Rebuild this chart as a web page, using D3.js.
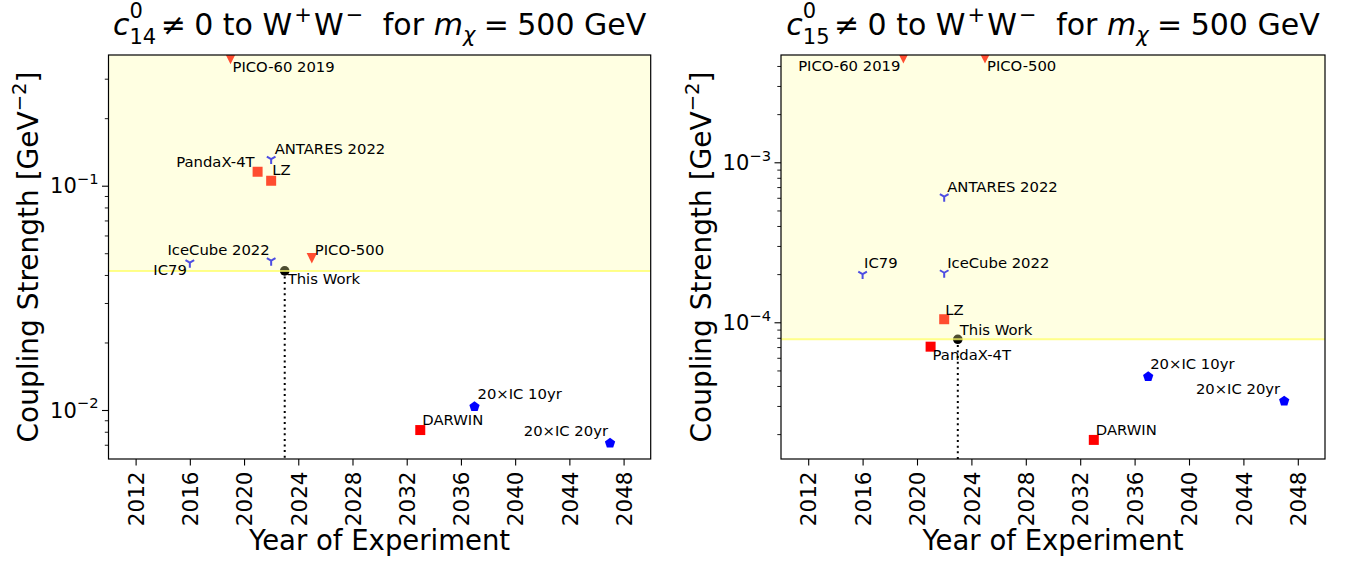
<!DOCTYPE html>
<html>
<head>
<meta charset="utf-8">
<script src="https://cdn.jsdelivr.net/npm/d3@7"></script>
<style>
  html, body { margin: 0; padding: 0; background: #fff; }
  svg { display: block; font-family: "DejaVu Sans", sans-serif; }
</style>
</head>
<body>
<svg id="chart" width="1348" height="566"></svg>
<script>
// ---------------- DATA ----------------
const experiments = ["PICO-60 2019", "ANTARES 2022", "PandaX-4T", "LZ", "IceCube 2022", "IC79",
                     "PICO-500", "This Work", "20×IC 10yr", "DARWIN", "20×IC 20yr"];
const experimentYears = [2019, 2022, 2021, 2022, 2022, 2016, 2025, 2023, 2037, 2033, 2047];
const markerKinds = ["triangle", "tri", "square", "square", "tri", "tri", "triangle", "circle", "pentagon", "square", "pentagon"];
const c14Values = [0.367, 0.1315, 0.1155, 0.1053, 0.0463, 0.0454, 0.0475, 0.0417, 0.01034, 0.00814, 0.00712];
const c15Values = [0.00446, 6.10e-4, 7.04e-5, 1.045e-4, 2.04e-4, 2.0e-4, 0.00446, 7.83e-5, 4.57e-5, 1.84e-5, 3.22e-5];
const yearTicks = [2012, 2016, 2020, 2024, 2028, 2032, 2036, 2040, 2044, 2048];
const yearDomain = [2010, 2050];
const c14Domain = [0.006047, 0.3826];
const c15Domain = [1.398e-5, 4.684e-3];
const c14MajorTicks = [1e-2, 1e-1];
const c15MajorTicks = [1e-4, 1e-3];
const c14Exponents = ["−2", "−1"];
const c15Exponents = ["−4", "−3"];

// label placement (anchor, dx, dy) per panel — layout only
const c14LabelPlace = {
  "PICO-60 2019": ["start", 2, 13], "ANTARES 2022": ["start", 3.5, -5], "PandaX-4T": ["end", -3, -5],
  "LZ": ["start", 1, -5.5], "IceCube 2022": ["end", -1.5, -5.5], "IC79": ["end", -3, 12.5],
  "PICO-500": ["start", 3, -3], "This Work": ["start", 3, 13.5], "20×IC 10yr": ["start", 3, -8],
  "DARWIN": ["start", 2, -5], "20×IC 20yr": ["end", -2, -7.5]
};
const c15LabelPlace = {
  "PICO-60 2019": ["end", -3, 13], "ANTARES 2022": ["start", 3, -5], "PandaX-4T": ["start", 2, 13.5],
  "LZ": ["start", 1, -4.5], "IceCube 2022": ["start", 3, -5], "IC79": ["start", 1.5, -6],
  "PICO-500": ["start", 2, 13], "This Work": ["start", 2, -4.5], "20×IC 10yr": ["start", 2, -7.5],
  "DARWIN": ["start", 2, -5], "20×IC 20yr": ["end", -4, -7.5]
};

const panels = [
  { id: "p14", idx: "14", values: c14Values, domain: c14Domain, majors: c14MajorTicks, exps: c14Exponents,
    place: c14LabelPlace, x0: 108.5, x1: 650.7, y0: 55, y1: 459, ylabX: 38 },
  { id: "p15", idx: "15", values: c15Values, domain: c15Domain, majors: c15MajorTicks, exps: c15Exponents,
    place: c15LabelPlace, x0: 781, x1: 1325, y0: 55, y1: 459, ylabX: 711 }
];

const colors = { triangle: "#ff0000", square: "#ff0000", tri: "#0000ff", pentagon: "#0000ff", circle: "#000000" };

const svg = d3.select("#chart");

function markerPath(kind) {
  const p = d3.path();
  if (kind === "square") { p.rect(-5, -5, 10, 10); }
  else if (kind === "triangle") { p.moveTo(-5.2, -5.2); p.lineTo(5.2, -5.2); p.lineTo(0, 5.2); p.closePath(); }
  else if (kind === "pentagon") {
    const r = 5.4;
    for (let i = 0; i < 5; i++) {
      const a = -Math.PI / 2 + i * 2 * Math.PI / 5;
      if (i === 0) p.moveTo(r * Math.cos(a), r * Math.sin(a)); else p.lineTo(r * Math.cos(a), r * Math.sin(a));
    }
    p.closePath();
  }
  else if (kind === "circle") { p.arc(0, 0, 4.8, 0, 2 * Math.PI); }
  else if (kind === "tri") {
    const r = 5;
    p.moveTo(0, 0); p.lineTo(0, r);
    p.moveTo(0, 0); p.lineTo(-0.866 * r, -0.5 * r);
    p.moveTo(0, 0); p.lineTo(0.866 * r, -0.5 * r);
  }
  return p.toString();
}

function mathLine(g, pieces, size) {
  let x = 0;
  pieces.forEach(p => {
    if (p.gap !== undefined) { x += p.gap * size; return; }
    if (p.sup !== undefined || p.sub !== undefined) {
      let w = 0;
      if (p.sup !== undefined) {
        const t = g.append("text").attr("x", x).attr("y", -(p.supRaise || 0.55) * size)
          .style("font-size", (0.7 * size) + "px").style("font-style", p.it ? "italic" : "normal").text(p.sup);
        w = Math.max(w, t.node().getComputedTextLength());
      }
      if (p.sub !== undefined) {
        const t = g.append("text").attr("x", x).attr("y", (p.subDrop || 0.3) * size)
          .style("font-size", (0.7 * size) + "px").style("font-style", p.it ? "italic" : "normal").text(p.sub);
        w = Math.max(w, t.node().getComputedTextLength());
      }
      x += w;
      return;
    }
    const t = g.append("text").attr("x", x).style("font-size", size + "px")
      .style("font-style", p.it ? "italic" : "normal").text(p.t);
    x += t.node().getComputedTextLength();
  });
  return x;
}

panels.forEach(P => {
  const x = d3.scaleLinear().domain(yearDomain).range([P.x0, P.x1]);
  const y = d3.scaleLog().domain(P.domain).range([P.y1, P.y0]);
  const g = svg.append("g");

  const clipId = "clip-" + P.id;
  svg.append("clipPath").attr("id", clipId).append("rect")
    .attr("x", P.x0).attr("y", P.y0).attr("width", P.x1 - P.x0).attr("height", P.y1 - P.y0);

  const plot = g.append("g").attr("clip-path", `url(#${clipId})`);
  const twIdx = experiments.indexOf("This Work");
  const twVal = P.values[twIdx];

  // dotted line from This Work down to axis
  plot.append("line")
    .attr("x1", x(experimentYears[twIdx])).attr("x2", x(experimentYears[twIdx]))
    .attr("y1", y(twVal)).attr("y2", P.y1)
    .attr("stroke", "#000").attr("stroke-width", 2).attr("stroke-dasharray", "2,3.6");

  // markers
  experiments.forEach((name, i) => {
    const k = markerKinds[i];
    const m = plot.append("path").attr("d", markerPath(k))
      .attr("transform", `translate(${x(experimentYears[i])},${y(P.values[i])})`);
    if (k === "tri") m.attr("fill", "none").attr("stroke", colors[k]).attr("stroke-width", 2);
    else m.attr("fill", colors[k]);
  });

  // excluded region overlay (above This Work)
  plot.append("rect")
    .attr("x", P.x0).attr("y", P.y0).attr("width", P.x1 - P.x0).attr("height", y(twVal) - P.y0)
    .attr("fill", "rgb(255,255,160)").attr("fill-opacity", 0.3);
  plot.append("line")
    .attr("x1", P.x0).attr("x2", P.x1).attr("y1", y(twVal)).attr("y2", y(twVal))
    .attr("stroke", "#ffff66").attr("stroke-opacity", 0.75).attr("stroke-width", 2);

  // labels
  experiments.forEach((name, i) => {
    const pl = P.place[name];
    g.append("text")
      .attr("x", x(experimentYears[i]) + pl[1]).attr("y", y(P.values[i]) + pl[2])
      .attr("text-anchor", pl[0]).style("font-size", "14.8px").attr("fill", "#000").text(name);
  });

  // x axis
  const xAxis = d3.axisBottom(x).tickValues(yearTicks).tickSize(6.5).tickPadding(6.5).tickFormat(d3.format("d"));
  const xa = g.append("g").attr("transform", `translate(0,${P.y1})`).call(xAxis);
  xa.select(".domain").remove();
  xa.selectAll(".tick line").attr("stroke", "#000").attr("stroke-width", 1.1);
  xa.selectAll(".tick text")
    .attr("transform", "rotate(-90)")
    .attr("x", -12.5).attr("y", 0).attr("dy", "0.36em")
    .attr("text-anchor", "end")
    .style("font-size", "21.5px").style("font-family", "DejaVu Sans").attr("fill", "#000");

  // y axis: minor ticks
  const minors = [];
  const lo = Math.floor(Math.log10(P.domain[0])), hi = Math.ceil(Math.log10(P.domain[1]));
  for (let e = lo; e <= hi; e++) for (let m = 2; m <= 9; m++) {
    const v = m * Math.pow(10, e);
    if (v >= P.domain[0] && v <= P.domain[1]) minors.push(v);
  }
  const yMinor = d3.axisLeft(y).tickValues(minors).tickSize(3.7).tickFormat("");
  const ym = g.append("g").attr("transform", `translate(${P.x0},0)`).call(yMinor);
  ym.select(".domain").remove();
  ym.selectAll(".tick line").attr("stroke", "#000").attr("stroke-width", 0.9);

  const yMajor = d3.axisLeft(y).tickValues(P.majors).tickSize(6.5).tickFormat("");
  const yM = g.append("g").attr("transform", `translate(${P.x0},0)`).call(yMajor);
  yM.select(".domain").remove();
  yM.selectAll(".tick line").attr("stroke", "#000").attr("stroke-width", 1.1);
  P.majors.forEach((v, i) => {
    const t = g.append("text").attr("x", P.x0 - 10).attr("y", y(v)).attr("dy", "0.36em")
      .attr("text-anchor", "end").style("font-size", "21px").attr("fill", "#000");
    t.append("tspan").text("10");
    t.append("tspan").attr("dy", "-0.62em").style("font-size", "14.7px").text(P.exps[i]);
  });

  // frame
  g.append("rect").attr("x", P.x0).attr("y", P.y0).attr("width", P.x1 - P.x0).attr("height", P.y1 - P.y0)
    .attr("fill", "none").attr("stroke", "#000").attr("stroke-width", 1.2);

  // axis labels
  g.append("text").attr("x", (P.x0 + P.x1) / 2).attr("y", 550).attr("text-anchor", "middle")
    .style("font-size", "27.5px").attr("fill", "#000").text("Year of Experiment");
  const yl = g.append("text").attr("transform", `translate(${P.ylabX},${(P.y0 + P.y1) / 2}) rotate(-90)`)
    .attr("text-anchor", "middle").style("font-size", "28px").attr("fill", "#000");
  yl.append("tspan").text("Coupling Strength [GeV");
  yl.append("tspan").attr("dy", "-0.62em").style("font-size", "19.6px").text("−2");
  yl.append("tspan").attr("dy", "0.43em").text("]");

  // title
  const tg = g.append("g").attr("fill", "#000");
  const w = mathLine(tg, [
    { t: "c", it: true }, { sup: "0", sub: P.idx, supRaise: 0.55, subDrop: 0.3 }, { gap: 0.15 },
    { t: "≠" }, { gap: 0.28 }, { t: "0 to W" }, { gap: 0.07 }, { sup: "+", supRaise: 0.42 }, { gap: 0.07 }, { t: "W" },
    { gap: 0.07 }, { sup: "−", supRaise: 0.42 }, { gap: 0.65 }, { t: "for" }, { gap: 0.32 }, { t: "m", it: true },
    { sub: "χ", it: true, subDrop: 0.25 }, { gap: 0.28 }, { t: "=" }, { gap: 0.28 }, { t: "500 GeV" }
  ], 30);
  tg.attr("transform", `translate(${(P.x0 + P.x1) / 2 - w / 2},34.5)`);
});
</script>
</body>
</html>
